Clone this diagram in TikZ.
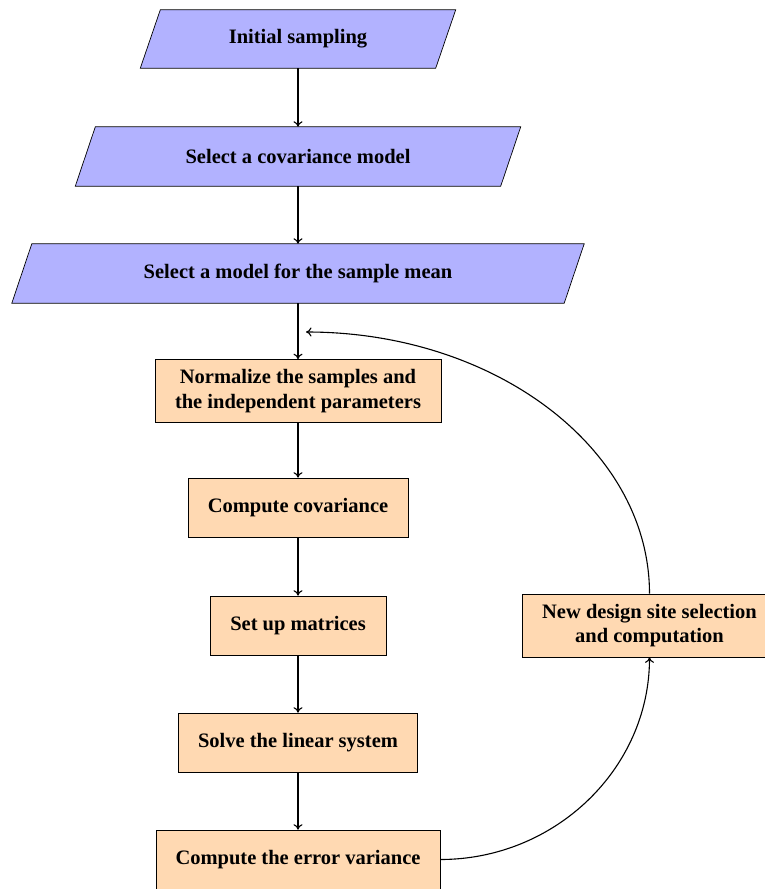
\documentclass[tikz,border=0pt]{standalone}
\usepackage{fontspec}
\setmainfont{Liberation Serif}
\usetikzlibrary{arrows.meta,calc,backgrounds}
\begin{document}
\begin{tikzpicture}[x=1pt,y=-1pt,
  every node/.style={font=\fontsize{20.5pt}{24.5pt}\selectfont\bfseries, inner sep=0pt, align=center},
  parabox/.style={rectangle, minimum height=58pt},
  procbox/.style={rectangle, draw=black, line width=0.7pt, fill=orange!30, minimum height=59pt},
  flow/.style={draw=black, line width=1.1pt, -{To[length=5.5pt,width=9pt]}}]
\useasboundingbox (0,0) rectangle (765,889);
% parallelogram nodes (text only; shapes drawn on background)
\node[parabox, minimum width=295pt] (init) at (298,39) {Initial sampling};
\node[parabox, minimum width=425pt, minimum height=59pt] (cov) at (298,156.5) {Select a covariance model};
\node[parabox, minimum width=552pt, minimum height=59pt] (mean) at (298,273.5) {Select a model for the sample mean};
% process boxes
\node[procbox, minimum width=286pt, minimum height=63pt] (norm) at (298,391) {Normalize the samples and\\the independent parameters};
\node[procbox, minimum width=220pt] (ccov) at (298,507.5) {Compute covariance};
\node[procbox, minimum width=176pt] (mat) at (298,625.5) {Set up matrices};
\node[procbox, minimum width=239pt] (solve) at (298,742.5) {Solve the linear system};
\node[procbox, minimum width=284pt] (err) at (298,859.5) {Compute the error variance};
\node[procbox, minimum width=255pt, minimum height=63pt] (site) at (649.5,625.5) {New design site selection\\and computation};
\coordinate (back) at (306,332);
\begin{scope}[on background layer]
  \foreach \n in {init,cov,mean}{
    \draw[black, line width=0.7pt, fill=blue!30]
      ($(\n.north west)+(10,0)$) -- ($(\n.north east)+(10,0)$) --
      ($(\n.south east)+(-10,0)$) -- ($(\n.south west)+(-10,0)$) -- cycle;
  }
\end{scope}
% connectors
\draw[flow] (init.south) -- (cov.north);
\draw[flow] (cov.south) -- (mean.north);
\draw[flow] (mean.south) -- (norm.north);
\draw[flow] (norm.south) -- (ccov.north);
\draw[flow] (ccov.south) -- (mat.north);
\draw[flow] (mat.south) -- (solve.north);
\draw[flow] (solve.south) -- (err.north);
\draw[flow] (err.east) .. controls ($(err.east)+(115,0)$) and ($(site.south)+(0,111)$) .. (site.south);
\draw[flow] (site.north) .. controls ($(site.north)+(0,-145)$) and ($(back)+(189,0)$) .. (back);
\end{tikzpicture}
\end{document}
